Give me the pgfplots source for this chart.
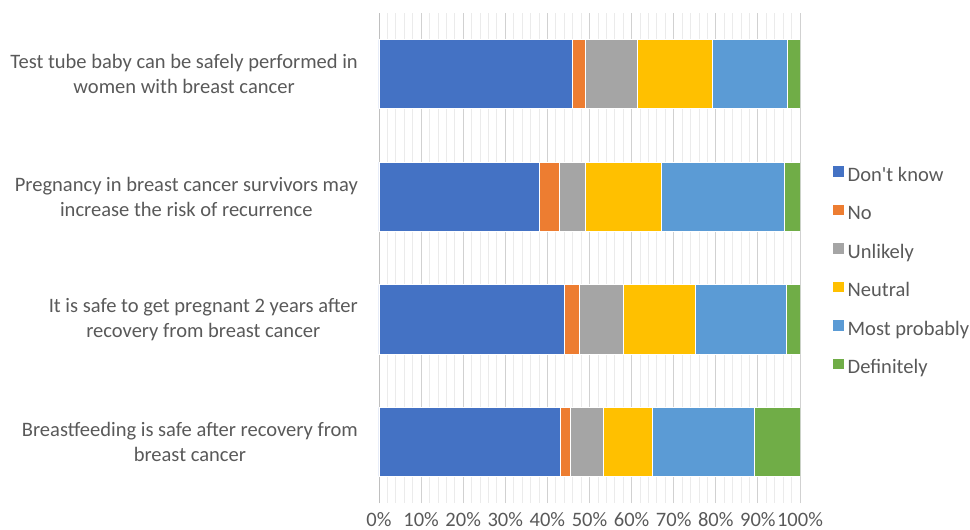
\documentclass[border=0pt]{standalone}
\usepackage{fontspec}
\setmainfont{Carlito}
\usepackage{pgfplots}
\usepackage{pgfplotstable}
\pgfplotsset{compat=1.18}

\definecolor{cdk}{HTML}{4472C4}
\definecolor{cno}{HTML}{ED7D31}
\definecolor{cun}{HTML}{A5A5A5}
\definecolor{cne}{HTML}{FFC000}
\definecolor{cmp}{HTML}{5B9BD5}
\definecolor{cdf}{HTML}{70AD47}
\definecolor{txt}{HTML}{595959}

% share of answers (%), one row per statement, bottom to top
\pgfplotstableread{
idx dk   no  un   ne   mp   df
0   43.1 2.4 7.8  11.5 24.4 10.8
1   44.0 3.6 10.3 17.3 21.5 3.3
2   38.1 4.7 6.2  18.1 29.1 3.8
3   45.8 3.2 12.3 17.9 17.8 3.0
}\answers

\begin{document}
\begin{tikzpicture}
\useasboundingbox (-379bp,-27bp) rectangle (591bp,503bp);
\begin{axis}[
    at={(0,0)}, anchor=south west,
    scale only axis,
    width=421bp, height=490bp,
    xbar stacked,
    bar width=69bp,
    xmin=0, xmax=100,
    ymin=-0.5, ymax=3.5,
    font=\fontsize{20.6}{25}\selectfont,
    xtick={0,10,...,100},
    minor x tick num=4,
    xmajorgrids, xminorgrids,
    major grid style={draw=black!18, line width=0.8bp},
    minor grid style={draw=black!8, line width=0.8bp},
    axis x line*=bottom,
    axis y line*=left,
    x axis line style={draw=none},
    y axis line style={draw=black!25, line width=0.8bp},
    major tick length=0pt, minor tick length=0pt,
    tick style={draw=none},
    /pgf/number format/assume math mode=true,
    xticklabel={\pgfmathprintnumber{\tick}\%},
    xticklabel style={text=txt, anchor=base, yshift=-23.5bp, inner sep=0pt},
    ytick={0,1,2,3},
    yticklabels={
      {Breastfeeding is safe after recovery from\\breast cancer},
      {It is safe to get pregnant 2 years after\\recovery from breast cancer},
      {Pregnancy in breast cancer survivors may\\increase the risk of recurrence},
      {Test tube baby can be safely performed in\\women with breast cancer}},
    yticklabel style={text=txt, align=center, anchor=east, inner sep=0pt},
    y tick label style={xshift=-21bp},
    every axis plot/.append style={draw=white, line width=0.5bp},
    legend image code/.code={\fill[#1] (0bp,0bp) rectangle (11.5bp,11.5bp);},
    legend style={at={(1,0.4724)}, anchor=west, xshift=32bp,
      draw=none, fill=none, inner sep=0pt, text=txt,
      row sep=18.2bp, column sep=0bp,
      nodes={inner xsep=3.5bp, inner ysep=0bp, text height=13bp, text depth=4bp}},
    legend cell align=left,
]
\addplot[fill=cdk] table[x=dk, y=idx] {\answers};
\addplot[fill=cno] table[x=no, y=idx] {\answers};
\addplot[fill=cun] table[x=un, y=idx] {\answers};
\addplot[fill=cne] table[x=ne, y=idx] {\answers};
\addplot[fill=cmp] table[x=mp, y=idx] {\answers};
\addplot[fill=cdf] table[x=df, y=idx] {\answers};
\legend{Don\textquotesingle t know, No, Unlikely, Neutral, Most probably, Definitely}
\end{axis}
\end{tikzpicture}
\end{document}
